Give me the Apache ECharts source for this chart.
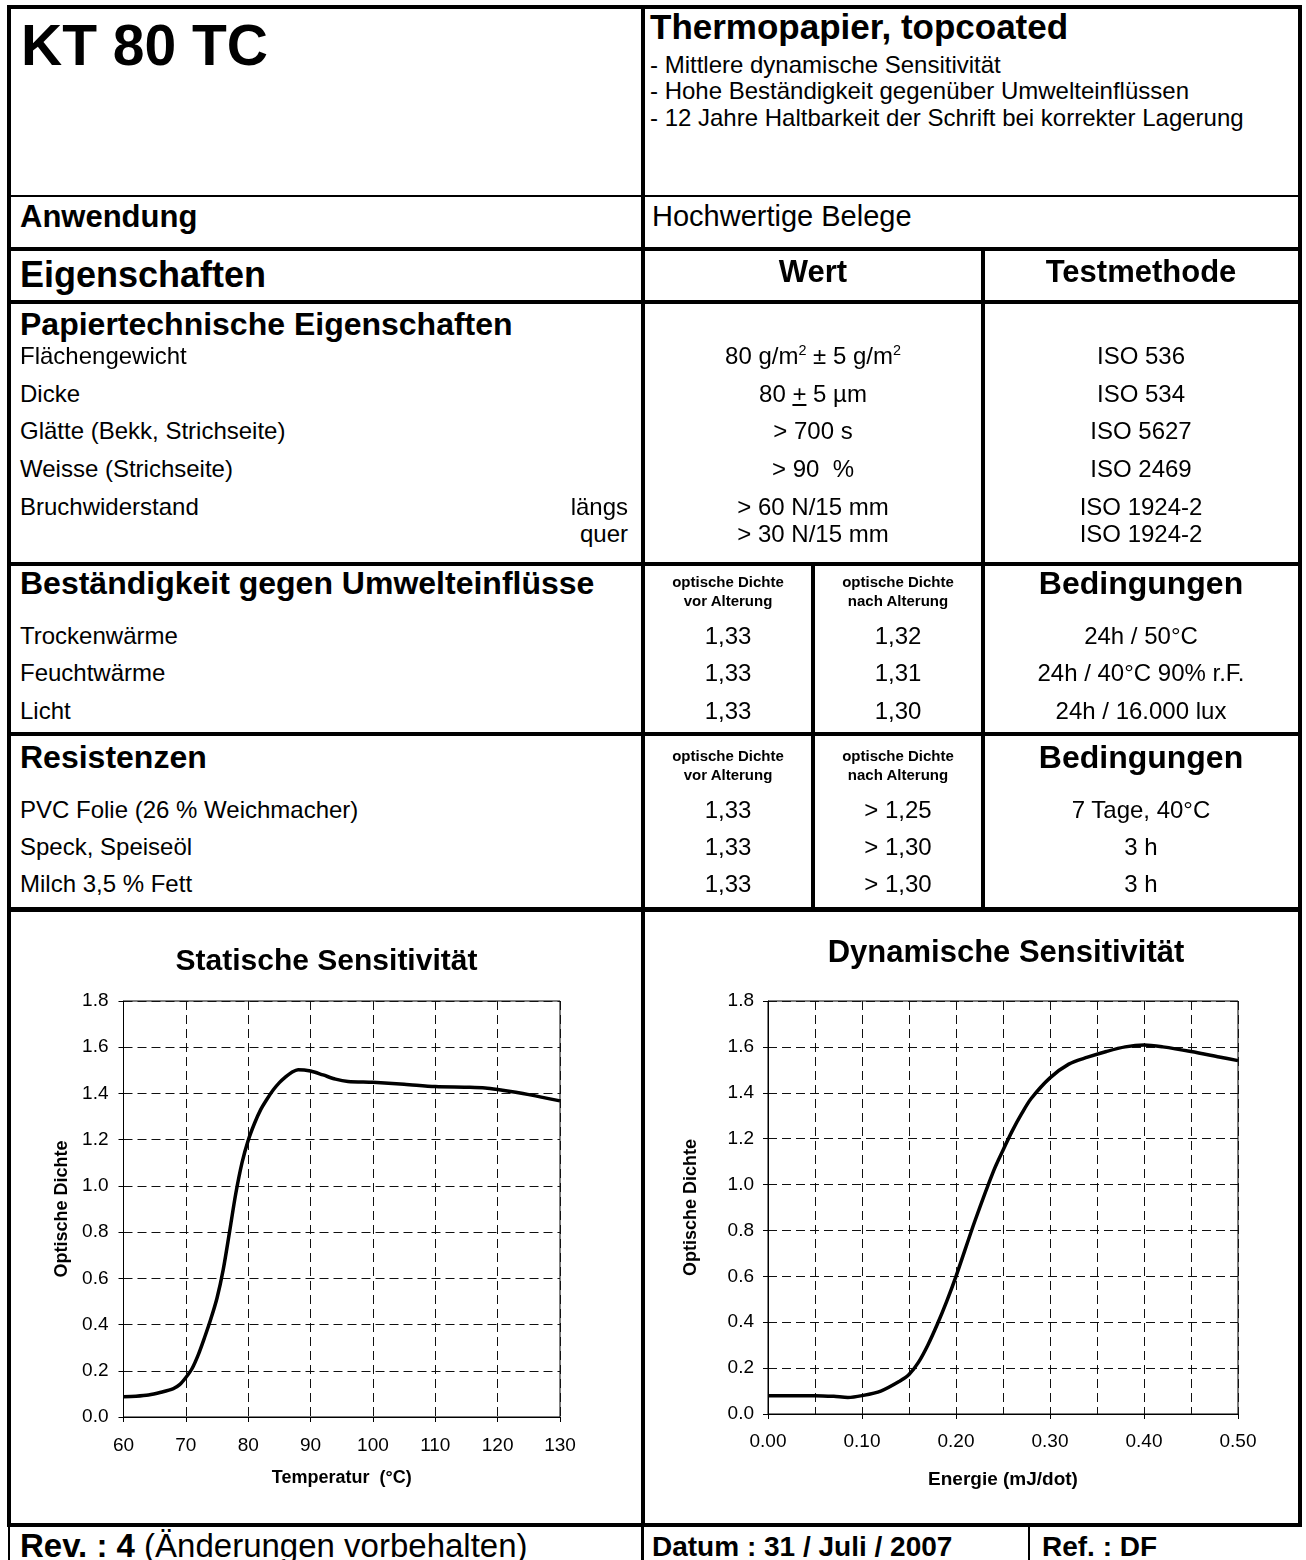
<!DOCTYPE html>
<html>
<head>
<meta charset="utf-8">
<script src="https://cdn.jsdelivr.net/npm/echarts@6/dist/echarts.min.js"></script>
<style>
  html, body { margin: 0; padding: 0; background: #fff; }
  #page { position: relative; width: 1306px; height: 1560px; overflow: hidden;
          font-family: "Liberation Sans", Arial, sans-serif; color: #000; }
  .t { position: absolute; white-space: nowrap; line-height: 1; }
  .ln { position: absolute; background: #000; }
  sup { font-size: 0.6em; line-height: 0; vertical-align: 0.62em; }
  .chart { position: absolute; }
</style>
</head>
<body>
<div id="page">
  <div id="chartTemp" class="chart" style="left:11px;top:911px;width:630px;height:612px"></div>
  <div id="chartEnergy" class="chart" style="left:645px;top:911px;width:653px;height:612px"></div>
</div>
<script>
// Statische Sensitivität: Temperatur (°C) -> optische Dichte
const tempC  = [60, 62, 64, 66, 68, 69, 70, 71, 72, 73, 74, 75, 76, 77, 78, 79, 80, 81, 82, 83, 84, 85, 86, 87, 88, 90, 92, 94, 96, 100, 105, 110, 115, 118, 120, 125, 130];
const tempOD = [0.088, 0.09, 0.095, 0.107, 0.123, 0.14, 0.171, 0.21, 0.27, 0.344, 0.424, 0.515, 0.639, 0.80, 0.966, 1.10, 1.197, 1.27, 1.33, 1.375, 1.415, 1.447, 1.472, 1.492, 1.503, 1.497, 1.48, 1.462, 1.452, 1.448, 1.44, 1.43, 1.427, 1.424, 1.417, 1.395, 1.368];

// Dynamische Sensitivität: Energie (mJ/dot) -> optische Dichte
const energyMJ = [0, 0.02, 0.05, 0.07, 0.085, 0.10, 0.12, 0.14, 0.15, 0.16, 0.17, 0.18, 0.19, 0.20, 0.22, 0.24, 0.25, 0.26, 0.27, 0.28, 0.30, 0.32, 0.34, 0.36, 0.38, 0.40, 0.42, 0.45, 0.48, 0.50];
const energyOD = [0.08, 0.08, 0.08, 0.077, 0.072, 0.08, 0.10, 0.143, 0.172, 0.225, 0.30, 0.39, 0.49, 0.60, 0.84, 1.06, 1.15, 1.235, 1.31, 1.375, 1.465, 1.525, 1.555, 1.58, 1.60, 1.608, 1.60, 1.58, 1.556, 1.54];

// Tabellentexte
const bullets = ['- Mittlere dynamische Sensitivität',
                 '- Hohe Beständigkeit gegenüber Umwelteinflüssen',
                 '- 12 Jahre Haltbarkeit der Schrift bei korrekter Lagerung'];
const paperRows = [
  ['Flächengewicht', '80 g/m<sup>2</sup> ± 5 g/m<sup>2</sup>', 'ISO 536'],
  ['Dicke', '80 <u>+</u> 5 µm', 'ISO 534'],
  ['Glätte (Bekk, Strichseite)', '&gt; 700 s', 'ISO 5627'],
  ['Weisse (Strichseite)', '&gt; 90&nbsp; %', 'ISO 2469'],
  ['Bruchwiderstand', '&gt; 60 N/15 mm', 'ISO 1924-2']
];
const paperBase = [364, 402, 439, 477, 515];
const envRows = [
  ['Trockenwärme', '1,33', '1,32', '24h / 50°C'],
  ['Feuchtwärme', '1,33', '1,31', '24h / 40°C 90% r.F.'],
  ['Licht', '1,33', '1,30', '24h / 16.000 lux']
];
const envBase = [644, 681, 719];
const resRows = [
  ['PVC Folie (26 % Weichmacher)', '1,33', '&gt; 1,25', '7 Tage, 40°C'],
  ['Speck, Speiseöl', '1,33', '&gt; 1,30', '3 h'],
  ['Milch 3,5 % Fett', '1,33', '&gt; 1,30', '3 h']
];
const resBase = [818, 855, 892];

const page = document.getElementById('page');

// text placed by its baseline
function txt(x, base, size, html, align, bold) {
  const d = document.createElement('div');
  d.className = 't';
  d.style.fontSize = size + 'px';
  d.style.top = (base - 0.8465 * size) + 'px';
  if (bold) d.style.fontWeight = 'bold';
  if (align === 'center') {
    d.style.left = (x - 300) + 'px';
    d.style.width = '600px';
    d.style.textAlign = 'center';
  } else if (align === 'right') {
    d.style.right = (1306 - x) + 'px';
  } else {
    d.style.left = x + 'px';
  }
  d.innerHTML = html;
  page.appendChild(d);
}
function hLine(x1, x2, y, w) {
  const d = document.createElement('div');
  d.className = 'ln';
  d.style.cssText += `left:${x1}px;top:${y}px;width:${x2 - x1}px;height:${w}px`;
  page.appendChild(d);
}
function vLine(x, y1, y2, w) {
  const d = document.createElement('div');
  d.className = 'ln';
  d.style.cssText += `left:${x}px;top:${y1}px;width:${w}px;height:${y2 - y1}px`;
  page.appendChild(d);
}

// Rahmen
hLine(7, 1302, 5, 4);
hLine(7, 1302, 195, 2);
hLine(7, 1302, 247, 4);
hLine(7, 1302, 300, 4);
hLine(7, 1302, 562, 4);
hLine(7, 1302, 732, 4);
hLine(7, 1302, 907, 5);
hLine(7, 1302, 1523, 4);
vLine(7, 5, 1527, 4);
vLine(1298, 5, 1527, 4);
vLine(641, 5, 1527, 4);
vLine(981, 247, 911, 4);
vLine(811, 562, 911, 4);
vLine(8, 1527, 1560, 2);
vLine(641, 1527, 1560, 3);
vLine(1028, 1527, 1560, 2);

// Kopf
txt(21, 65, 57, 'KT 80 TC', 'left', true);
txt(650, 39, 35, 'Thermopapier, topcoated', 'left', true);
bullets.forEach((b, i) => txt(650, 73 + i * 26.5, 24, b, 'left', false));
txt(20, 227, 31, 'Anwendung', 'left', true);
txt(652, 227, 29, 'Hochwertige Belege', 'left', false);
txt(20, 287, 36, 'Eigenschaften', 'left', true);
txt(813, 282, 31, 'Wert', 'center', true);
txt(1141, 282, 31, 'Testmethode', 'center', true);

// Papiertechnische Eigenschaften
txt(20, 335, 32, 'Papiertechnische Eigenschaften', 'left', true);
paperRows.forEach((r, i) => {
  txt(20, paperBase[i], 24, r[0], 'left', false);
  txt(813, paperBase[i], 24, r[1], 'center', false);
  txt(1141, paperBase[i], 24, r[2], 'center', false);
});
txt(628, 515, 24, 'längs', 'right', false);
txt(628, 542, 24, 'quer', 'right', false);
txt(813, 542, 24, '&gt; 30 N/15 mm', 'center', false);
txt(1141, 542, 24, 'ISO 1924-2', 'center', false);

// Beständigkeit / Resistenzen
function section(title, base, rows, rowBase) {
  txt(20, base, 32, title, 'left', true);
  txt(728, base - 7, 15, 'optische Dichte', 'center', true);
  txt(728, base + 12, 15, 'vor Alterung', 'center', true);
  txt(898, base - 7, 15, 'optische Dichte', 'center', true);
  txt(898, base + 12, 15, 'nach Alterung', 'center', true);
  txt(1141, base, 32, 'Bedingungen', 'center', true);
  rows.forEach((r, i) => {
    txt(20, rowBase[i], 24, r[0], 'left', false);
    txt(728, rowBase[i], 24, r[1], 'center', false);
    txt(898, rowBase[i], 24, r[2], 'center', false);
    txt(1141, rowBase[i], 24, r[3], 'center', false);
  });
}
section('Beständigkeit gegen Umwelteinflüsse', 594, envRows, envBase);
section('Resistenzen', 768, resRows, resBase);

// Fuss
txt(20, 1557, 33, '<b>Rev. : 4</b> (Änderungen vorbehalten)', 'left', false);
txt(652, 1557, 28, 'Datum : 31 / Juli / 2007', 'left', true);
txt(1042, 1557, 28, 'Ref. : DF', 'left', true);

// Diagramme
const FONT = '"Liberation Sans", Arial, sans-serif';
const dash = { type: [9, 5], color: '#111', width: 1 };

function sensChart(el, o) {
  const chart = echarts.init(el);
  const xAxis = {
    type: 'value', min: o.xMin, max: o.xMax, interval: o.xStep,
    name: o.xName, nameLocation: 'middle', nameGap: o.xNameGap,
    nameTextStyle: { fontFamily: FONT, fontWeight: 'bold', fontSize: o.nameSize, color: '#000' },
    axisLine: { show: true, onZero: false, lineStyle: { color: '#000', width: 1 } },
    axisTick: { show: true, length: 5, lineStyle: { color: '#000' } },
    axisLabel: { fontFamily: FONT, fontSize: 19, color: '#000', margin: o.xLabelMargin,
                 formatter: v => v.toFixed(o.xDigits) },
    splitLine: { show: true, lineStyle: dash }
  };
  if (o.minor) {
    xAxis.minorTick = { show: false, splitNumber: 2 };
    xAxis.minorSplitLine = { show: true, lineStyle: dash };
  }
  chart.setOption({
    animation: false,
    textStyle: { fontFamily: FONT, color: '#000' },
    graphic: [{
      type: 'text', x: o.titleX, y: o.titleY,
      style: { text: o.title, fontFamily: FONT, fontWeight: 'bold', fontSize: o.titleSize, fill: '#000',
               align: 'center', verticalAlign: 'top', textAlign: 'center', textVerticalAlign: 'top' }
    }],
    grid: { left: o.grid[0], top: o.grid[1], width: o.grid[2], height: o.grid[3],
            show: true, borderColor: '#000', borderWidth: 1 },
    xAxis: xAxis,
    yAxis: {
      type: 'value', min: 0, max: 1.8, interval: 0.2,
      name: 'Optische Dichte', nameLocation: 'middle', nameGap: o.yNameGap,
      nameTextStyle: { fontFamily: FONT, fontWeight: 'bold', fontSize: 18, color: '#000' },
      axisLine: { show: true, lineStyle: { color: '#000', width: 1 } },
      axisTick: { show: true, length: 5, lineStyle: { color: '#000' } },
      axisLabel: { fontFamily: FONT, fontSize: 19, color: '#000', margin: o.yLabelMargin,
                   formatter: v => v.toFixed(1) },
      splitLine: { show: true, lineStyle: dash }
    },
    series: [{
      type: 'line',
      data: o.x.map((v, i) => [v, o.y[i]]),
      smooth: 0.3,
      symbol: 'none',
      lineStyle: { color: '#000', width: 3.5 }
    }]
  });
}

sensChart(document.getElementById('chartTemp'), {
  title: 'Statische Sensitivität', titleX: 315.5, titleY: 36, titleSize: 30,
  grid: [112.5, 90, 436.5, 416],
  xMin: 60, xMax: 130, xStep: 10, xDigits: 0, minor: false,
  xName: 'Temperatur  (°C)', xNameGap: 52, nameSize: 18, xLabelMargin: 19.5,
  yNameGap: 52, yLabelMargin: 15,
  x: tempC, y: tempOD
});
sensChart(document.getElementById('chartEnergy'), {
  title: 'Dynamische Sensitivität', titleX: 361, titleY: 27, titleSize: 31,
  grid: [123, 90, 470, 413],
  xMin: 0, xMax: 0.5, xStep: 0.1, xDigits: 2, minor: true,
  xName: 'Energie (mJ/dot)', xNameGap: 56, nameSize: 19, xLabelMargin: 18.5,
  yNameGap: 68, yLabelMargin: 14,
  x: energyMJ, y: energyOD
});
</script>
</body>
</html>
